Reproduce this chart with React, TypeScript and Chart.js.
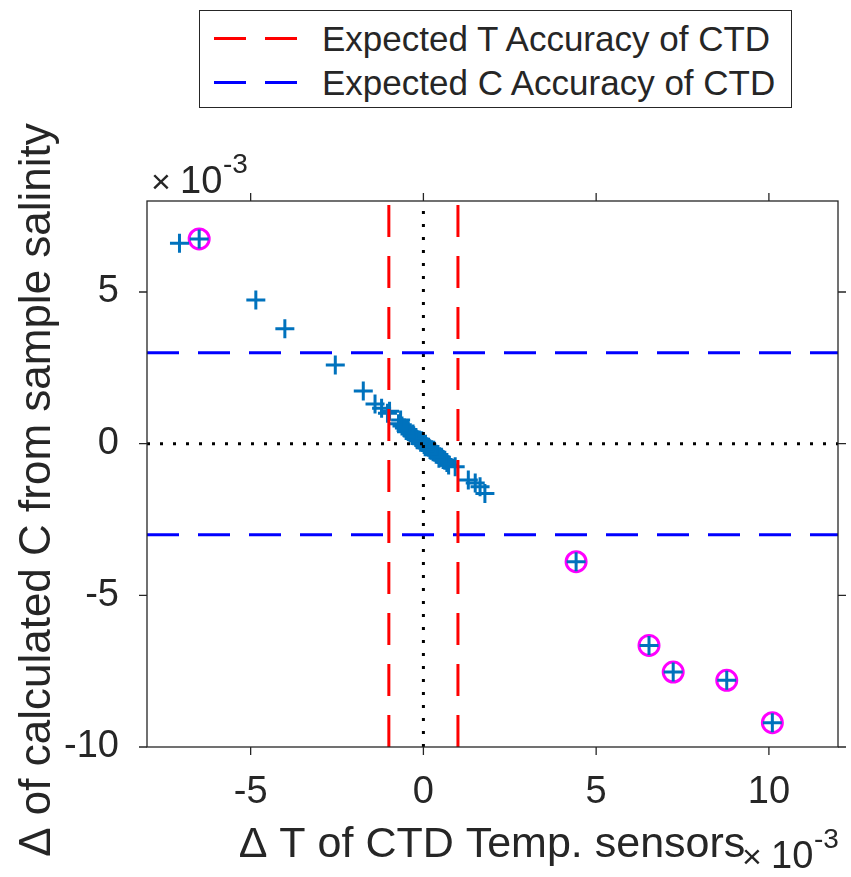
import React, { useEffect, useRef } from "react";
import { Chart, registerables } from "chart.js";

Chart.register(...registerables);

// ---- data (units of 1e-3) ----
const deltaT: number[] = [
  -7.06, -6.49, -4.85, -4.01, -2.55, -1.74, -1.4, -1.21, -1.04, -0.98, -0.66,
  -0.72, -0.62, -0.55, -0.5, -0.45, -0.44, -0.38, -0.33, -0.3, -0.28, -0.22,
  -0.18, -0.12, -0.08, -0.05, -0.03, 0.02, 0.05, 0.06, 0.1, 0.15, 0.19, 0.24,
  0.28, 0.3, 0.33, 0.37, 0.42, 0.45, 0.47, 0.52, 0.57, 0.62, 0.68,
  0.73, 0.92, 1.3, 1.5, 1.64, 1.78,
  4.42, 6.53, 7.23, 8.78, 10.1,
];
const deltaC: number[] = [
  6.61, 6.75, 4.74, 3.79, 2.59, 1.74, 1.31, 1.17, 1.0, 1.07, 0.78,
  0.66, 0.58, 0.52, 0.43, 0.45, 0.4, 0.36, 0.27, 0.32, 0.26, 0.2,
  0.13, 0.12, 0.05, 0.1, 0.04, -0.03, -0.1, -0.02, -0.1, -0.12, -0.19, -0.2,
  -0.27, -0.22, -0.28, -0.35, -0.36, -0.48, -0.43, -0.45, -0.52, -0.55, -0.62,
  -0.7, -0.76, -1.2, -1.3, -1.42, -1.64,
  -3.89, -6.65, -7.53, -7.8, -9.2,
];
const flaggedT: number[] = [-6.49, 4.42, 6.53, 7.23, 8.78, 10.1];
const flaggedC: number[] = [6.75, -3.89, -6.65, -7.53, -7.8, -9.2];

const tempAccuracy: number[] = [-1, 1];
const condAccuracy: number[] = [-3, 3];

const xRange: number[] = [-8, 12];
const yRange: number[] = [-10, 8];
const xTicks: number[] = [-5, 0, 5, 10];
const yTicks: number[] = [-10, -5, 0, 5];

const legendLabels: string[] = [
  "Expected T Accuracy of CTD",
  "Expected C Accuracy of CTD",
];
const xTitle = "\u0394 T of CTD Temp. sensors";
const yTitle = "\u0394 of calculated C from sample salinity";

const TXT = "#262626";
const FONT_FAMILY = '"Liberation Sans", Arial, Helvetica, sans-serif';

const decorPlugin = {
  id: "decor",
  afterDraw(chart: any) {
    const { ctx, chartArea } = chart;
    const { left, right, top, bottom } = chartArea;
    const xs = chart.scales.x;
    const ys = chart.scales.y;
    ctx.save();
    ctx.strokeStyle = TXT;
    ctx.lineWidth = 1.3;
    ctx.strokeRect(left, top, right - left, bottom - top);
    const tl = 8;
    ctx.beginPath();
    xTicks.forEach((v) => {
      const p = xs.getPixelForValue(v);
      ctx.moveTo(p, bottom);
      ctx.lineTo(p, bottom + tl);
      ctx.moveTo(p, top);
      ctx.lineTo(p, top - tl);
    });
    yTicks.forEach((v) => {
      const p = ys.getPixelForValue(v);
      ctx.moveTo(left, p);
      ctx.lineTo(left - tl, p);
      ctx.moveTo(right, p);
      ctx.lineTo(right + tl, p);
    });
    ctx.stroke();

    ctx.fillStyle = TXT;
    ctx.textBaseline = "alphabetic";
    ctx.textAlign = "left";
    const drawExp = (x: number, base: number) => {
      ctx.font = `34px ${FONT_FAMILY}`;
      ctx.fillText("\u00d7", x, base);
      ctx.font = `38px ${FONT_FAMILY}`;
      ctx.fillText("10", x + 29, base);
      ctx.font = `28px ${FONT_FAMILY}`;
      ctx.fillText("-3", x + 72, base - 20);
    };
    drawExp(151, 193);
    drawExp(742, 868);

    ctx.font = `43px ${FONT_FAMILY}`;
    ctx.textAlign = "center";
    ctx.fillText(xTitle, 492, 857);

    ctx.save();
    ctx.translate(50, 490);
    ctx.rotate(-Math.PI / 2);
    ctx.font = `44px ${FONT_FAMILY}`;
    ctx.fillText(yTitle, 0, 0);
    ctx.restore();
    ctx.restore();
  },
};

export default function App() {
  const canvasRef = useRef<HTMLCanvasElement | null>(null);

  useEffect(() => {
    const canvas = canvasRef.current;
    if (!canvas) return;
    const pts = deltaT.map((x, i) => ({ x, y: deltaC[i] }));
    const flagged = flaggedT.map((x, i) => ({ x, y: flaggedC[i] }));
    const dashLine = (pts2: { x: number; y: number }[], color: string, label: string, dash: number[], width: number) => ({
      type: "line" as const,
      label,
      data: pts2,
      borderColor: color,
      backgroundColor: color,
      borderWidth: width,
      borderDash: dash,
      pointRadius: 0,
      showLine: true,
      fill: false,
    });

    const datasets: any[] = [
      ...tempAccuracy.map((v) =>
        dashLine([{ x: v, y: yRange[0] }, { x: v, y: yRange[1] }], "#FF0000", legendLabels[0], [32, 19], 3)
      ),
      ...condAccuracy.map((v) =>
        dashLine([{ x: xRange[0], y: v }, { x: xRange[1], y: v }], "#0000FF", legendLabels[1], [32, 19], 3)
      ),
      dashLine([{ x: 0, y: yRange[0] }, { x: 0, y: yRange[1] }], "#000000", "zero x", [3, 10], 3),
      dashLine([{ x: xRange[0], y: 0 }, { x: xRange[1], y: 0 }], "#000000", "zero y", [3, 10], 3),
      {
        type: "scatter",
        label: "data",
        data: pts,
        pointStyle: "cross",
        pointRadius: 9.5,
        pointBorderWidth: 3,
        borderColor: "#0072BD",
        backgroundColor: "#0072BD",
        showLine: false,
      },
      {
        type: "scatter",
        label: "flagged",
        data: flagged,
        pointStyle: "circle",
        pointRadius: 10,
        pointBorderWidth: 3,
        borderColor: "#FF00FF",
        backgroundColor: "rgba(0,0,0,0)",
        showLine: false,
      },
    ];

    const chart = new Chart(canvas, {
      type: "scatter",
      data: { datasets },
      options: {
        animation: false,
        responsive: false,
        events: [],
        layout: { padding: { top: 201, right: 6, left: 0, bottom: 0 } },
        plugins: {
          legend: { display: false },
          tooltip: { enabled: false },
        },
        scales: {
          x: {
            type: "linear",
            min: xRange[0],
            max: xRange[1],
            grid: { display: false, drawTicks: false },
            border: { display: false },
            afterFit: (s: any) => {
              s.height = 130;
              s.paddingLeft = 0;
              s.paddingRight = 0;
            },
            afterBuildTicks: (s: any) => {
              s.ticks = xTicks.map((v) => ({ value: v }));
            },
            ticks: {
              color: TXT,
              font: { family: FONT_FAMILY, size: 38 },
              padding: 23,
              maxRotation: 0,
              autoSkip: false,
              callback: (v: any) => String(v),
            },
          },
          y: {
            type: "linear",
            min: yRange[0],
            max: yRange[1],
            grid: { display: false, drawTicks: false },
            border: { display: false },
            afterFit: (s: any) => {
              s.width = 147;
              s.paddingTop = 0;
              s.paddingBottom = 0;
            },
            afterBuildTicks: (s: any) => {
              s.ticks = yTicks.map((v) => ({ value: v }));
            },
            ticks: {
              color: TXT,
              font: { family: FONT_FAMILY, size: 38 },
              padding: 28,
              autoSkip: false,
              callback: (v: any) => String(v),
            },
          },
        },
      },
      plugins: [decorPlugin],
    } as any);
    return () => chart.destroy();
  }, []);

  const dash = (left: number, top: number, color: string) => (
    <div style={{ position: "absolute", left, top, width: 32, height: 3, background: color }} />
  );

  return (
    <div style={{ position: "absolute", left: 0, top: 0, width: 851, height: 877, background: "#fff" }}>
      <canvas ref={canvasRef} width={851} height={877} style={{ width: 851, height: 877, display: "block" }} />
      <div
        style={{
          position: "absolute",
          left: 199,
          top: 10,
          width: 593,
          height: 98,
          boxSizing: "border-box",
          border: "1.3px solid #262626",
          background: "#fff",
          fontFamily: FONT_FAMILY,
          fontSize: 35,
          lineHeight: "35px",
          color: TXT,
        }}
      >
        {dash(14, 26, "#FF0000")}
        {dash(65, 26, "#FF0000")}
        {dash(14, 70, "#0000FF")}
        {dash(65, 70, "#0000FF")}
        <div style={{ position: "absolute", left: 122, top: 10, whiteSpace: "nowrap" }}>{legendLabels[0]}</div>
        <div style={{ position: "absolute", left: 122, top: 54, whiteSpace: "nowrap" }}>{legendLabels[1]}</div>
      </div>
    </div>
  );
}
